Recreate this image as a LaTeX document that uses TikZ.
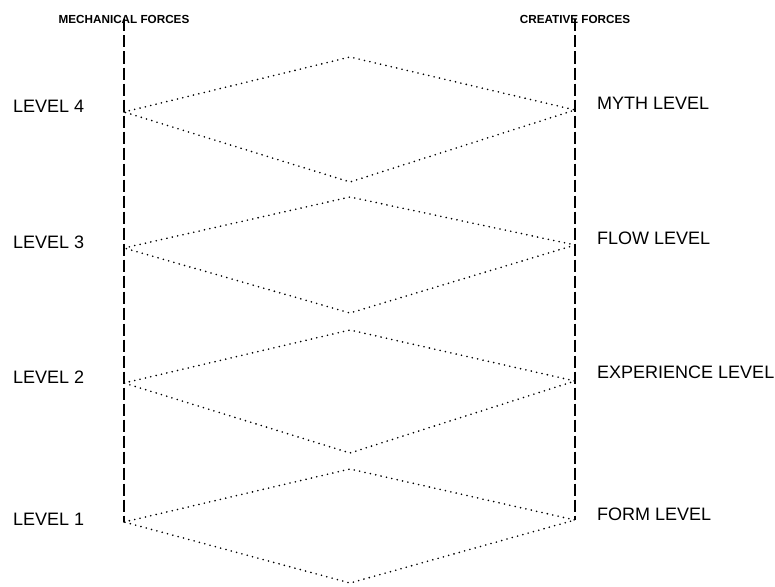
\documentclass[tikz,border=0pt]{standalone}
\usepackage{fontspec}
\setmainfont{Liberation Sans}

\begin{document}
\begin{tikzpicture}[x=1pt, y=-1pt, every node/.style={inner sep=0pt},
    levellabel/.style={font=\fontsize{18}{20}\selectfont, anchor=west},
    forcelabel/.style={font=\bfseries\fontsize{11.7}{13}\selectfont},
    forceline/.style={line width=1.5pt, dash pattern=on 12pt off 4pt},
    diamondline/.style={line width=1.8pt, line cap=round, dash pattern=on 0pt off 5.5pt}]
    \useasboundingbox (0,0) rectangle (775,586);

    \node[forcelabel] (mech) at (124,19.5) {MECHANICAL FORCES};
    \node[forcelabel] (crea) at (575,19.5) {CREATIVE FORCES};
    \coordinate (mechend) at (124,522);
    \coordinate (creaend) at (575,520);
    \draw[forceline] (mech.center) -- (mechend);
    \draw[forceline] (crea.center) -- (creaend);

    \foreach \i/\ly/\ry/\ty/\by in {4/112/110/57/182, 3/248/245/197/313, 2/383/381/330/453, 1/522/520/469/583} {
        \coordinate (l\i) at (124,\ly);
        \coordinate (r\i) at (575,\ry);
        \coordinate (t\i) at (350,\ty);
        \coordinate (b\i) at (350,\by);
        \draw[diamondline] (l\i) -- (t\i) -- (r\i) -- (b\i) -- cycle;
    }

    \foreach \i/\y/\w/\yy in {4/106.5/MYTH LEVEL/103.5, 3/242/FLOW LEVEL/238, 2/377/EXPERIENCE LEVEL/372, 1/519/FORM LEVEL/514} {
        \node[levellabel] (level\i) at (13,\y) {LEVEL \i};
        \node[levellabel] (name\i) at (597,\yy) {\w};
    }
\end{tikzpicture}
\end{document}
